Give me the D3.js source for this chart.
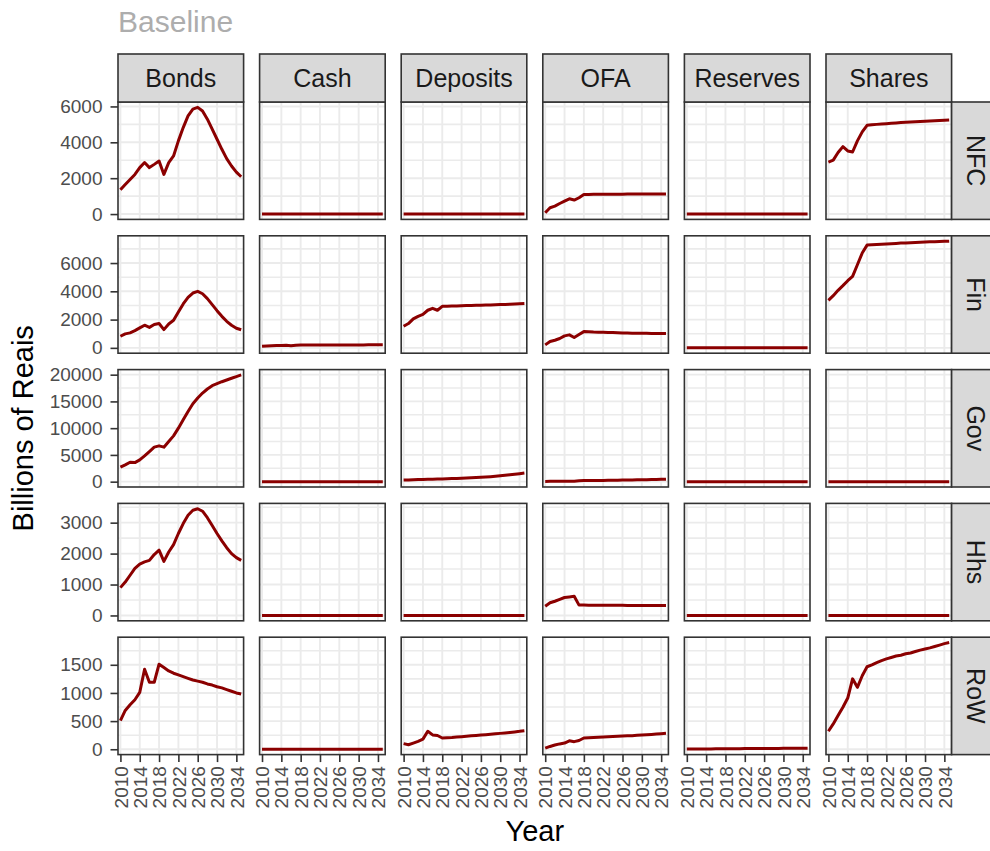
<!DOCTYPE html>
<html>
<head>
<meta charset="utf-8">
<script src="https://cdn.jsdelivr.net/npm/d3@7"></script>
<style>
body { margin: 0; background: #ffffff; }
text { font-family: "Liberation Sans", Arial, Helvetica, sans-serif; }
</style>
</head>
<body>
<div id="chartArea"></div>
<script>
var years = [2010,2011,2012,2013,2014,2015,2016,2017,2018,2019,2020,2021,2022,2023,2024,2025,2026,2027,2028,2029,2030,2031,2032,2033,2034,2035];
var xTicks = [2010,2014,2018,2022,2026,2030,2034];
var sectors = ["NFC","Fin","Gov","Hhs","RoW"];
var assets = ["Bonds","Cash","Deposits","OFA","Reserves","Shares"];

// NFC
var nfcBonds    = [1350,1650,1930,2210,2590,2870,2590,2770,2960,2210,2870,3240,4080,4820,5470,5850,5950,5750,5290,4730,4170,3610,3090,2680,2340,2080];
var nfcCash     = [0,0,0,0,0,0,0,0,0,0,0,0,0,0,0,0,0,0,0,0,0,0,0,0,0,0];
var nfcDeposits = [0,0,0,0,0,0,0,0,0,0,0,0,0,0,0,0,0,0,0,0,0,0,0,0,0,0];
var nfcOFA      = [70,350,440,590,720,850,780,910,1090,1095,1098,1100,1102,1104,1106,1108,1110,1112,1113,1114,1115,1116,1117,1118,1119,1120];
var nfcReserves = [0,0,0,0,0,0,0,0,0,0,0,0,0,0,0,0,0,0,0,0,0,0,0,0,0,0];
var nfcShares   = [2900,3010,3430,3760,3520,3460,4080,4580,4950,4980,5000,5020,5040,5060,5080,5100,5115,5130,5145,5160,5175,5190,5205,5220,5235,5250];
var nfcTicks = [0,2000,4000,6000];

// Fin
var finBonds    = [820,990,1060,1220,1410,1600,1450,1650,1720,1290,1690,1950,2540,3110,3570,3880,4000,3830,3480,3060,2630,2230,1880,1600,1390,1280];
var finCash     = [110,130,145,160,170,180,150,190,200,200,200,201,202,203,204,205,206,207,208,209,210,211,212,213,214,215];
var finDeposits = [1530,1720,2050,2230,2370,2660,2800,2660,2940,2950,2960,2970,2980,2990,3000,3010,3020,3030,3040,3050,3060,3070,3085,3100,3115,3130];
var finOFA      = [210,450,540,660,850,920,730,940,1150,1140,1120,1110,1100,1090,1080,1070,1060,1050,1040,1035,1030,1025,1020,1015,1012,1010];
var finReserves = [0,0,0,0,0,0,0,0,0,0,0,0,0,0,0,0,0,0,0,0,0,0,0,0,0,0];
var finShares   = [3360,3690,4070,4400,4750,5060,5880,6710,7270,7290,7310,7330,7350,7370,7390,7410,7425,7440,7455,7470,7485,7500,7510,7520,7535,7550];
var finTicks = [0,2000,4000,6000];

// Gov
var govBonds    = [2700,3130,3630,3560,4070,4820,5620,6450,6690,6450,7500,8560,10000,11560,13120,14560,15630,16560,17320,17940,18310,18680,19000,19330,19650,19950];
var govCash     = [0,0,0,0,0,0,0,0,0,0,0,0,0,0,0,0,0,0,0,0,0,0,0,0,0,0];
var govDeposits = [300,330,360,390,420,450,470,490,510,540,570,600,640,680,720,770,820,880,940,1010,1090,1180,1280,1390,1500,1620];
var govOFA      = [50,60,70,80,90,100,80,150,200,210,220,230,240,250,260,275,290,305,320,340,360,380,400,420,440,460];
var govReserves = [0,0,0,0,0,0,0,0,0,0,0,0,0,0,0,0,0,0,0,0,0,0,0,0,0,0];
var govShares   = [0,0,0,0,0,0,0,0,0,0,0,0,0,0,0,0,0,0,0,0,0,0,0,0,0,0];
var govTicks = [0,5000,10000,15000,20000];

// Hhs
var hhsBonds    = [900,1080,1300,1520,1660,1730,1780,1970,2110,1750,2050,2290,2650,2970,3240,3400,3450,3370,3160,2910,2650,2410,2190,2000,1870,1780];
var hhsCash     = [0,0,0,0,0,0,0,0,0,0,0,0,0,0,0,0,0,0,0,0,0,0,0,0,0,0];
var hhsDeposits = [0,0,0,0,0,0,0,0,0,0,0,0,0,0,0,0,0,0,0,0,0,0,0,0,0,0];
var hhsOFA      = [300,410,460,520,580,600,620,335,335,334,333,332,331,330,329,328,327,326,325,324,323,322,321,320,320,320];
var hhsReserves = [0,0,0,0,0,0,0,0,0,0,0,0,0,0,0,0,0,0,0,0,0,0,0,0,0,0];
var hhsShares   = [0,0,0,0,0,0,0,0,0,0,0,0,0,0,0,0,0,0,0,0,0,0,0,0,0,0];
var hhsTicks = [0,1000,2000,3000];

// RoW
var rowBonds    = [510,690,790,880,1010,1420,1190,1190,1510,1450,1390,1350,1320,1290,1260,1230,1210,1190,1160,1140,1110,1090,1060,1030,1000,980];
var rowCash     = [0,0,0,0,0,0,0,0,0,0,0,0,0,0,0,0,0,0,0,0,0,0,0,0,0,0];
var rowDeposits = [100,80,110,140,180,320,255,245,200,205,210,217,224,231,238,245,252,259,266,274,282,290,299,308,318,330];
var rowOFA      = [20,50,75,95,110,150,135,155,200,205,210,214,218,222,226,230,234,238,242,247,252,258,264,270,276,283];
var rowReserves = [5,5,5,5,6,6,7,8,10,10,11,11,12,12,13,13,14,14,15,15,16,16,17,17,18,18];
var rowShares   = [320,450,600,745,910,1250,1100,1305,1465,1500,1540,1575,1605,1630,1655,1670,1695,1710,1735,1760,1780,1800,1825,1850,1875,1895];
var rowTicks = [0,500,1000,1500];

var series = {
    NFC: [nfcBonds, nfcCash, nfcDeposits, nfcOFA, nfcReserves, nfcShares],
    Fin: [finBonds, finCash, finDeposits, finOFA, finReserves, finShares],
    Gov: [govBonds, govCash, govDeposits, govOFA, govReserves, govShares],
    Hhs: [hhsBonds, hhsCash, hhsDeposits, hhsOFA, hhsReserves, hhsShares],
    RoW: [rowBonds, rowCash, rowDeposits, rowOFA, rowReserves, rowShares]
};
var ticksBySector = { NFC: nfcTicks, Fin: finTicks, Gov: govTicks, Hhs: hhsTicks, RoW: rowTicks };

var width = 990, height = 851;
var plotLeft = 118, plotTop = 102;
var panelw = 125.6, panelh = 117.4;
var gapx = 16, gapy = 16.4;
var striph = 48;
var border = "#333333", gridCol = "#ebebeb", stripFill = "#d9d9d9", lineCol = "#8b0000";

var svg = d3.select("#chartArea")
    .append("svg")
    .attr("width", width)
    .attr("height", height)

svg.append("rect").attr("width", width).attr("height", height).attr("fill", "#ffffff")

var x = d3.scaleLinear().domain([2009.5, 2035.5]).range([0, panelw]);

svg.append("text")
    .text("Baseline")
    .attr("x", plotLeft)
    .attr("y", 31.5)
    .attr("font-size", 30)
    .style("fill", "#adadad")

sectors.forEach(function(sec, r) {
    var rowData = series[sec];
    var ext = d3.extent([].concat.apply([], rowData));
    var pad = (ext[1] - ext[0]) * 0.05;
    var y = d3.scaleLinear().domain([ext[0] - pad, ext[1] + pad]).range([panelh, 0]);
    var ticks = ticksBySector[sec];
    var step = ticks[1] - ticks[0];
    var minor = [];
    ticks.forEach(function(t) { minor.push(t - step / 2); });
    minor.push(ticks[ticks.length - 1] + step / 2);
    minor = minor.filter(function(v) { return v > y.domain()[0] && v < y.domain()[1]; });

    var py = plotTop + r * (panelh + gapy);

    assets.forEach(function(asset, c) {
        var px = plotLeft + c * (panelw + gapx);
        var g = svg.append("g").attr("transform", "translate(" + px + "," + py + ")");

        g.append("rect").attr("width", panelw).attr("height", panelh).attr("fill", "#ffffff")

        g.selectAll(".hminor").data(minor).enter().append("line")
            .attr("x1", 0).attr("x2", panelw)
            .attr("y1", function(d) { return y(d); })
            .attr("y2", function(d) { return y(d); })
            .attr("stroke", gridCol).attr("stroke-width", 1.6)

        g.selectAll(".hmajor").data(ticks).enter().append("line")
            .attr("x1", 0).attr("x2", panelw)
            .attr("y1", function(d) { return y(d); })
            .attr("y2", function(d) { return y(d); })
            .attr("stroke", gridCol).attr("stroke-width", 1.9)

        g.selectAll(".vmajor").data(xTicks).enter().append("line")
            .attr("y1", 0).attr("y2", panelh)
            .attr("x1", function(d) { return x(d); })
            .attr("x2", function(d) { return x(d); })
            .attr("stroke", gridCol).attr("stroke-width", 1.9)

        var line = d3.line()
            .x(function(d, i) { return x(years[i]); })
            .y(function(d) { return y(d); });

        g.append("path")
            .datum(rowData[c])
            .attr("d", line)
            .attr("fill", "none")
            .attr("stroke", lineCol)
            .attr("stroke-width", 3)
            .attr("stroke-linejoin", "round")

        g.append("rect").attr("width", panelw).attr("height", panelh)
            .attr("fill", "none").attr("stroke", border).attr("stroke-width", 1.6)

        // left axis on first column
        if (c == 0) {
            var ya = g.append("g").call(d3.axisLeft(y).tickValues(ticks).tickSize(7.5).tickPadding(8).tickFormat(d3.format("d")));
            ya.select(".domain").remove();
            ya.selectAll("line").attr("stroke", border).attr("stroke-width", 1.6);
            ya.selectAll("text").attr("font-size", 19).attr("fill", "#4d4d4d").attr("font-family", "Liberation Sans, Arial, sans-serif");
        }

        // bottom axis on last row
        if (r == sectors.length - 1) {
            var xa = g.append("g").attr("transform", "translate(0," + panelh + ")")
                .call(d3.axisBottom(x).tickValues(xTicks).tickSize(7.5).tickFormat(d3.format("d")));
            xa.select(".domain").remove();
            xa.selectAll("line").attr("stroke", border).attr("stroke-width", 1.6);
            xa.selectAll("text")
                .attr("font-size", 19).attr("fill", "#4d4d4d").attr("font-family", "Liberation Sans, Arial, sans-serif")
                .attr("y", 0).attr("x", -11.5).attr("dy", "0.35em")
                .attr("transform", "rotate(-90)")
                .style("text-anchor", "end")
        }

        // top strips
        if (r == 0) {
            svg.append("rect")
                .attr("x", px).attr("y", plotTop - striph)
                .attr("width", panelw).attr("height", striph)
                .attr("fill", stripFill).attr("stroke", border).attr("stroke-width", 1.6)
            svg.append("text")
                .text(asset)
                .attr("x", px + panelw / 2)
                .attr("y", plotTop - striph / 2)
                .attr("dy", "0.35em")
                .attr("text-anchor", "middle")
                .attr("font-size", 25)
                .style("fill", "#1a1a1a")
        }
    });

    // right strips
    var sx = plotLeft + assets.length * (panelw + gapx) - gapx;
    svg.append("rect")
        .attr("x", sx).attr("y", py)
        .attr("width", striph).attr("height", panelh)
        .attr("fill", stripFill).attr("stroke", border).attr("stroke-width", 1.6)
    svg.append("text")
        .text(sec)
        .attr("transform", "translate(" + (sx + striph / 2) + "," + (py + panelh / 2) + ") rotate(90)")
        .attr("dy", "0.35em")
        .attr("text-anchor", "middle")
        .attr("font-size", 25)
        .style("fill", "#1a1a1a")
});

svg.append("text")
    .text("Billions of Reais")
    .attr("transform", "translate(33," + (plotTop + (5 * panelh + 4 * gapy) / 2) + ") rotate(-90)")
    .attr("text-anchor", "middle")
    .attr("font-size", 29)
    .style("fill", "#000000")

svg.append("text")
    .text("Year")
    .attr("x", plotLeft + (6 * panelw + 5 * gapx) / 2)
    .attr("y", 841)
    .attr("text-anchor", "middle")
    .attr("font-size", 29)
    .style("fill", "#000000")
</script>
</body>
</html>
